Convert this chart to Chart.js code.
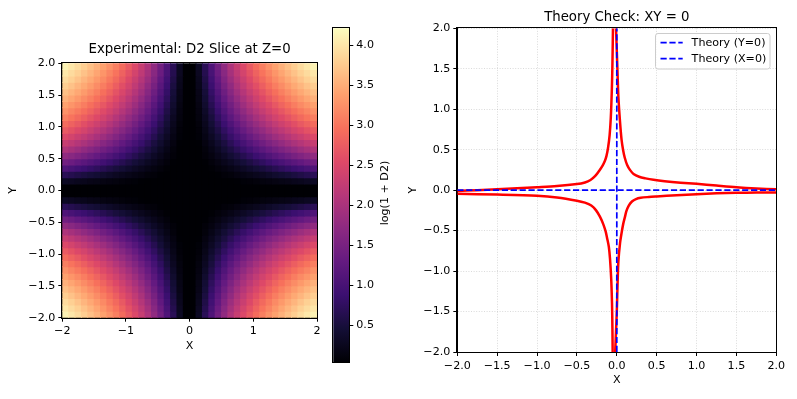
<!DOCTYPE html>
<html><head><meta charset="utf-8">
<script src="https://cdn.jsdelivr.net/npm/chart.js@4.4.1/dist/chart.umd.min.js"></script>
<style>
html,body{margin:0;padding:0;background:#fff;}
#wrap{position:relative;width:797px;height:399px;overflow:hidden;background:#fff;}
.box{position:absolute;top:0;}
canvas{display:block;}
</style></head><body>
<div id="wrap">
 <div class="box" style="left:0px"><canvas id="heat" width="330" height="399"></canvas></div>
 <div class="box" style="left:320px"><canvas id="cbar" width="90" height="399"></canvas></div>
 <div class="box" style="left:400px"><canvas id="theory" width="397" height="399"></canvas></div>
</div>
<script>
// ---------------- DATA ----------------
const heatTitle = 'Experimental: D2 Slice at Z=0';
const theoryTitle = 'Theory Check: XY = 0';
const colorbarLabel = 'log(1 + D2)';

const heatXCenters = [-1.95,-1.85,-1.75,-1.65,-1.55,-1.45,-1.35,-1.25,-1.15,-1.05,-0.95,-0.85,-0.75,-0.65,-0.55,-0.45,-0.35,-0.25,-0.15,-0.05,0.05,0.15,0.25,0.35,0.45,0.55,0.65,0.75,0.85,0.95,1.05,1.15,1.25,1.35,1.45,1.55,1.65,1.75,1.85,1.95];
const heatYCenters = [-1.95,-1.85,-1.75,-1.65,-1.55,-1.45,-1.35,-1.25,-1.15,-1.05,-0.95,-0.85,-0.75,-0.65,-0.55,-0.45,-0.35,-0.25,-0.15,-0.05,0.05,0.15,0.25,0.35,0.45,0.55,0.65,0.75,0.85,0.95,1.05,1.15,1.25,1.35,1.45,1.55,1.65,1.75,1.85,1.95];

// log(1 + D2), row i -> heatYCenters[i], column j -> heatXCenters[j]
const heatLogD2 = [
[4.11,4.01,3.90,3.78,3.66,3.53,3.39,3.25,3.09,2.91,2.72,2.52,2.29,2.04,1.75,1.43,1.08,0.69,0.30,0.04,0.04,0.30,0.69,1.08,1.43,1.75,2.04,2.29,2.52,2.72,2.91,3.09,3.25,3.39,3.53,3.66,3.78,3.90,4.01,4.11],
[4.01,3.90,3.80,3.68,3.56,3.43,3.29,3.14,2.99,2.81,2.63,2.42,2.20,1.95,1.67,1.36,1.01,0.64,0.28,0.03,0.03,0.28,0.64,1.01,1.36,1.67,1.95,2.20,2.42,2.63,2.81,2.99,3.14,3.29,3.43,3.56,3.68,3.80,3.90,4.01],
[3.90,3.80,3.69,3.57,3.45,3.32,3.19,3.04,2.88,2.71,2.52,2.32,2.10,1.85,1.58,1.27,0.94,0.58,0.25,0.03,0.03,0.25,0.58,0.94,1.27,1.58,1.85,2.10,2.32,2.52,2.71,2.88,3.04,3.19,3.32,3.45,3.57,3.69,3.80,3.90],
[3.78,3.68,3.57,3.46,3.34,3.21,3.07,2.93,2.77,2.60,2.42,2.22,2.00,1.75,1.49,1.19,0.87,0.53,0.23,0.03,0.03,0.23,0.53,0.87,1.19,1.49,1.75,2.00,2.22,2.42,2.60,2.77,2.93,3.07,3.21,3.34,3.46,3.57,3.68,3.78],
[3.66,3.56,3.45,3.34,3.22,3.09,2.95,2.81,2.65,2.48,2.30,2.11,1.89,1.65,1.39,1.11,0.80,0.48,0.20,0.02,0.02,0.20,0.48,0.80,1.11,1.39,1.65,1.89,2.11,2.30,2.48,2.65,2.81,2.95,3.09,3.22,3.34,3.45,3.56,3.66],
[3.53,3.43,3.32,3.21,3.09,2.96,2.83,2.68,2.53,2.36,2.18,1.99,1.78,1.54,1.29,1.02,0.73,0.44,0.18,0.02,0.02,0.18,0.44,0.73,1.02,1.29,1.54,1.78,1.99,2.18,2.36,2.53,2.68,2.83,2.96,3.09,3.21,3.32,3.43,3.53],
[3.39,3.29,3.19,3.07,2.95,2.83,2.69,2.55,2.40,2.23,2.06,1.87,1.66,1.43,1.19,0.93,0.66,0.39,0.16,0.02,0.02,0.16,0.39,0.66,0.93,1.19,1.43,1.66,1.87,2.06,2.23,2.40,2.55,2.69,2.83,2.95,3.07,3.19,3.29,3.39],
[3.25,3.14,3.04,2.93,2.81,2.68,2.55,2.41,2.26,2.10,1.93,1.74,1.54,1.32,1.09,0.84,0.58,0.34,0.14,0.02,0.02,0.14,0.34,0.58,0.84,1.09,1.32,1.54,1.74,1.93,2.10,2.26,2.41,2.55,2.68,2.81,2.93,3.04,3.14,3.25],
[3.09,2.99,2.88,2.77,2.65,2.53,2.40,2.26,2.11,1.95,1.78,1.60,1.41,1.20,0.98,0.75,0.51,0.29,0.12,0.01,0.01,0.12,0.29,0.51,0.75,0.98,1.20,1.41,1.60,1.78,1.95,2.11,2.26,2.40,2.53,2.65,2.77,2.88,2.99,3.09],
[2.91,2.81,2.71,2.60,2.48,2.36,2.23,2.10,1.95,1.80,1.64,1.46,1.27,1.08,0.87,0.66,0.45,0.25,0.10,0.01,0.01,0.10,0.25,0.45,0.66,0.87,1.08,1.27,1.46,1.64,1.80,1.95,2.10,2.23,2.36,2.48,2.60,2.71,2.81,2.91],
[2.72,2.63,2.52,2.42,2.30,2.18,2.06,1.93,1.78,1.64,1.48,1.31,1.13,0.95,0.76,0.56,0.38,0.21,0.08,0.01,0.01,0.08,0.21,0.38,0.56,0.76,0.95,1.13,1.31,1.48,1.64,1.78,1.93,2.06,2.18,2.30,2.42,2.52,2.63,2.72],
[2.52,2.42,2.32,2.22,2.11,1.99,1.87,1.74,1.60,1.46,1.31,1.15,0.99,0.82,0.65,0.47,0.31,0.17,0.07,0.01,0.01,0.07,0.17,0.31,0.47,0.65,0.82,0.99,1.15,1.31,1.46,1.60,1.74,1.87,1.99,2.11,2.22,2.32,2.42,2.52],
[2.29,2.20,2.10,2.00,1.89,1.78,1.66,1.54,1.41,1.27,1.13,0.99,0.84,0.69,0.53,0.39,0.25,0.14,0.05,0.01,0.01,0.05,0.14,0.25,0.39,0.53,0.69,0.84,0.99,1.13,1.27,1.41,1.54,1.66,1.78,1.89,2.00,2.10,2.20,2.29],
[2.04,1.95,1.85,1.75,1.65,1.54,1.43,1.32,1.20,1.08,0.95,0.82,0.69,0.55,0.43,0.30,0.19,0.10,0.04,0.00,0.00,0.04,0.10,0.19,0.30,0.43,0.55,0.69,0.82,0.95,1.08,1.20,1.32,1.43,1.54,1.65,1.75,1.85,1.95,2.04],
[1.75,1.67,1.58,1.49,1.39,1.29,1.19,1.09,0.98,0.87,0.76,0.65,0.53,0.43,0.32,0.23,0.14,0.08,0.03,0.00,0.00,0.03,0.08,0.14,0.23,0.32,0.43,0.53,0.65,0.76,0.87,0.98,1.09,1.19,1.29,1.39,1.49,1.58,1.67,1.75],
[1.43,1.36,1.27,1.19,1.11,1.02,0.93,0.84,0.75,0.66,0.56,0.47,0.39,0.30,0.23,0.16,0.10,0.05,0.02,0.00,0.00,0.02,0.05,0.10,0.16,0.23,0.30,0.39,0.47,0.56,0.66,0.75,0.84,0.93,1.02,1.11,1.19,1.27,1.36,1.43],
[1.08,1.01,0.94,0.87,0.80,0.73,0.66,0.58,0.51,0.45,0.38,0.31,0.25,0.19,0.14,0.10,0.06,0.03,0.01,0.00,0.00,0.01,0.03,0.06,0.10,0.14,0.19,0.25,0.31,0.38,0.45,0.51,0.58,0.66,0.73,0.80,0.87,0.94,1.01,1.08],
[0.69,0.64,0.58,0.53,0.48,0.44,0.39,0.34,0.29,0.25,0.21,0.17,0.14,0.10,0.08,0.05,0.03,0.02,0.01,0.00,0.00,0.01,0.02,0.03,0.05,0.08,0.10,0.14,0.17,0.21,0.25,0.29,0.34,0.39,0.44,0.48,0.53,0.58,0.64,0.69],
[0.30,0.28,0.25,0.23,0.20,0.18,0.16,0.14,0.12,0.10,0.08,0.07,0.05,0.04,0.03,0.02,0.01,0.01,0.00,0.00,0.00,0.00,0.01,0.01,0.02,0.03,0.04,0.05,0.07,0.08,0.10,0.12,0.14,0.16,0.18,0.20,0.23,0.25,0.28,0.30],
[0.04,0.04,0.03,0.03,0.02,0.02,0.02,0.02,0.01,0.01,0.01,0.01,0.01,0.00,0.00,0.00,0.00,0.00,0.00,0.00,0.00,0.00,0.00,0.00,0.00,0.00,0.00,0.01,0.01,0.01,0.01,0.01,0.02,0.02,0.02,0.02,0.03,0.03,0.04,0.04],
[0.04,0.04,0.03,0.03,0.02,0.02,0.02,0.02,0.01,0.01,0.01,0.01,0.01,0.00,0.00,0.00,0.00,0.00,0.00,0.00,0.00,0.00,0.00,0.00,0.00,0.00,0.00,0.01,0.01,0.01,0.01,0.01,0.02,0.02,0.02,0.02,0.03,0.03,0.04,0.04],
[0.30,0.28,0.25,0.23,0.20,0.18,0.16,0.14,0.12,0.10,0.08,0.07,0.05,0.04,0.03,0.02,0.01,0.01,0.00,0.00,0.00,0.00,0.01,0.01,0.02,0.03,0.04,0.05,0.07,0.08,0.10,0.12,0.14,0.16,0.18,0.20,0.23,0.25,0.28,0.30],
[0.69,0.64,0.58,0.53,0.48,0.44,0.39,0.34,0.29,0.25,0.21,0.17,0.14,0.10,0.08,0.05,0.03,0.02,0.01,0.00,0.00,0.01,0.02,0.03,0.05,0.08,0.10,0.14,0.17,0.21,0.25,0.29,0.34,0.39,0.44,0.48,0.53,0.58,0.64,0.69],
[1.08,1.01,0.94,0.87,0.80,0.73,0.66,0.58,0.51,0.45,0.38,0.31,0.25,0.19,0.14,0.10,0.06,0.03,0.01,0.00,0.00,0.01,0.03,0.06,0.10,0.14,0.19,0.25,0.31,0.38,0.45,0.51,0.58,0.66,0.73,0.80,0.87,0.94,1.01,1.08],
[1.43,1.36,1.27,1.19,1.11,1.02,0.93,0.84,0.75,0.66,0.56,0.47,0.39,0.30,0.23,0.16,0.10,0.05,0.02,0.00,0.00,0.02,0.05,0.10,0.16,0.23,0.30,0.39,0.47,0.56,0.66,0.75,0.84,0.93,1.02,1.11,1.19,1.27,1.36,1.43],
[1.75,1.67,1.58,1.49,1.39,1.29,1.19,1.09,0.98,0.87,0.76,0.65,0.53,0.43,0.32,0.23,0.14,0.08,0.03,0.00,0.00,0.03,0.08,0.14,0.23,0.32,0.43,0.53,0.65,0.76,0.87,0.98,1.09,1.19,1.29,1.39,1.49,1.58,1.67,1.75],
[2.04,1.95,1.85,1.75,1.65,1.54,1.43,1.32,1.20,1.08,0.95,0.82,0.69,0.55,0.43,0.30,0.19,0.10,0.04,0.00,0.00,0.04,0.10,0.19,0.30,0.43,0.55,0.69,0.82,0.95,1.08,1.20,1.32,1.43,1.54,1.65,1.75,1.85,1.95,2.04],
[2.29,2.20,2.10,2.00,1.89,1.78,1.66,1.54,1.41,1.27,1.13,0.99,0.84,0.69,0.53,0.39,0.25,0.14,0.05,0.01,0.01,0.05,0.14,0.25,0.39,0.53,0.69,0.84,0.99,1.13,1.27,1.41,1.54,1.66,1.78,1.89,2.00,2.10,2.20,2.29],
[2.52,2.42,2.32,2.22,2.11,1.99,1.87,1.74,1.60,1.46,1.31,1.15,0.99,0.82,0.65,0.47,0.31,0.17,0.07,0.01,0.01,0.07,0.17,0.31,0.47,0.65,0.82,0.99,1.15,1.31,1.46,1.60,1.74,1.87,1.99,2.11,2.22,2.32,2.42,2.52],
[2.72,2.63,2.52,2.42,2.30,2.18,2.06,1.93,1.78,1.64,1.48,1.31,1.13,0.95,0.76,0.56,0.38,0.21,0.08,0.01,0.01,0.08,0.21,0.38,0.56,0.76,0.95,1.13,1.31,1.48,1.64,1.78,1.93,2.06,2.18,2.30,2.42,2.52,2.63,2.72],
[2.91,2.81,2.71,2.60,2.48,2.36,2.23,2.10,1.95,1.80,1.64,1.46,1.27,1.08,0.87,0.66,0.45,0.25,0.10,0.01,0.01,0.10,0.25,0.45,0.66,0.87,1.08,1.27,1.46,1.64,1.80,1.95,2.10,2.23,2.36,2.48,2.60,2.71,2.81,2.91],
[3.09,2.99,2.88,2.77,2.65,2.53,2.40,2.26,2.11,1.95,1.78,1.60,1.41,1.20,0.98,0.75,0.51,0.29,0.12,0.01,0.01,0.12,0.29,0.51,0.75,0.98,1.20,1.41,1.60,1.78,1.95,2.11,2.26,2.40,2.53,2.65,2.77,2.88,2.99,3.09],
[3.25,3.14,3.04,2.93,2.81,2.68,2.55,2.41,2.26,2.10,1.93,1.74,1.54,1.32,1.09,0.84,0.58,0.34,0.14,0.02,0.02,0.14,0.34,0.58,0.84,1.09,1.32,1.54,1.74,1.93,2.10,2.26,2.41,2.55,2.68,2.81,2.93,3.04,3.14,3.25],
[3.39,3.29,3.19,3.07,2.95,2.83,2.69,2.55,2.40,2.23,2.06,1.87,1.66,1.43,1.19,0.93,0.66,0.39,0.16,0.02,0.02,0.16,0.39,0.66,0.93,1.19,1.43,1.66,1.87,2.06,2.23,2.40,2.55,2.69,2.83,2.95,3.07,3.19,3.29,3.39],
[3.53,3.43,3.32,3.21,3.09,2.96,2.83,2.68,2.53,2.36,2.18,1.99,1.78,1.54,1.29,1.02,0.73,0.44,0.18,0.02,0.02,0.18,0.44,0.73,1.02,1.29,1.54,1.78,1.99,2.18,2.36,2.53,2.68,2.83,2.96,3.09,3.21,3.32,3.43,3.53],
[3.66,3.56,3.45,3.34,3.22,3.09,2.95,2.81,2.65,2.48,2.30,2.11,1.89,1.65,1.39,1.11,0.80,0.48,0.20,0.02,0.02,0.20,0.48,0.80,1.11,1.39,1.65,1.89,2.11,2.30,2.48,2.65,2.81,2.95,3.09,3.22,3.34,3.45,3.56,3.66],
[3.78,3.68,3.57,3.46,3.34,3.21,3.07,2.93,2.77,2.60,2.42,2.22,2.00,1.75,1.49,1.19,0.87,0.53,0.23,0.03,0.03,0.23,0.53,0.87,1.19,1.49,1.75,2.00,2.22,2.42,2.60,2.77,2.93,3.07,3.21,3.34,3.46,3.57,3.68,3.78],
[3.90,3.80,3.69,3.57,3.45,3.32,3.19,3.04,2.88,2.71,2.52,2.32,2.10,1.85,1.58,1.27,0.94,0.58,0.25,0.03,0.03,0.25,0.58,0.94,1.27,1.58,1.85,2.10,2.32,2.52,2.71,2.88,3.04,3.19,3.32,3.45,3.57,3.69,3.80,3.90],
[4.01,3.90,3.80,3.68,3.56,3.43,3.29,3.14,2.99,2.81,2.63,2.42,2.20,1.95,1.67,1.36,1.01,0.64,0.28,0.03,0.03,0.28,0.64,1.01,1.36,1.67,1.95,2.20,2.42,2.63,2.81,2.99,3.14,3.29,3.43,3.56,3.68,3.80,3.90,4.01],
[4.11,4.01,3.90,3.78,3.66,3.53,3.39,3.25,3.09,2.91,2.72,2.52,2.29,2.04,1.75,1.43,1.08,0.69,0.30,0.04,0.04,0.30,0.69,1.08,1.43,1.75,2.04,2.29,2.52,2.72,2.91,3.09,3.25,3.39,3.53,3.66,3.78,3.90,4.01,4.11]
];

const cbarMin = 0.04;
const cbarMax = 4.21;
const cbarTicks = [0.5,1.0,1.5,2.0,2.5,3.0,3.5,4.0];
const heatXTicks = [-2,-1,0,1,2];
const heatYTicks = [-2.0,-1.5,-1.0,-0.5,0.0,0.5,1.0,1.5,2.0];
const theoryTicks = [-2.0,-1.5,-1.0,-0.5,0.0,0.5,1.0,1.5,2.0];

// Theory lines
const theoryY0Label = 'Theory (Y=0)';
const theoryY0X = [-2, 2];
const theoryY0Y = [0, 0];
const theoryX0Label = 'Theory (X=0)';
const theoryX0X = [0, 0];
const theoryX0Y = [-2, 2];

// Experimental contour branches (red)
const branchURx = [-0.01,0.00,0.01,0.02,0.04,0.06,0.08,0.10,0.13,0.165,0.21,0.28,0.36,0.46,0.6,0.8,1.0,1.25,1.5,1.75,2.0];
const branchURy = [2.0,1.72,1.43,1.15,0.85,0.62,0.49,0.40,0.31,0.25,0.20,0.165,0.145,0.127,0.11,0.092,0.078,0.056,0.035,0.02,0.01];
const branchULx = [-2.0,-1.75,-1.5,-1.25,-1.0,-0.75,-0.5,-0.4,-0.33,-0.27,-0.22,-0.18,-0.15,-0.13,-0.11,-0.09,-0.075,-0.062,-0.055,-0.048];
const branchULy = [-0.01,0.0,0.01,0.022,0.035,0.05,0.075,0.095,0.125,0.175,0.24,0.30,0.36,0.42,0.52,0.68,0.9,1.25,1.55,2.0];
const branchLLx = [-2.0,-1.5,-1.0,-0.75,-0.5,-0.4,-0.32,-0.26,-0.21,-0.17,-0.14,-0.12,-0.1,-0.085,-0.07,-0.06,-0.055,-0.052];
const branchLLy = [-0.045,-0.055,-0.07,-0.09,-0.13,-0.155,-0.19,-0.25,-0.33,-0.42,-0.51,-0.60,-0.70,-0.85,-1.1,-1.4,-1.7,-2.0];
const branchLRx = [-0.02,-0.01,0.0,0.01,0.02,0.04,0.06,0.08,0.10,0.12,0.15,0.19,0.24,0.3,0.4,0.5,0.75,1.0,1.25,1.5,1.75,2.0];
const branchLRy = [-2.0,-1.75,-1.5,-1.15,-0.88,-0.66,-0.53,-0.42,-0.34,-0.26,-0.19,-0.14,-0.11,-0.095,-0.085,-0.078,-0.062,-0.05,-0.04,-0.033,-0.03,-0.03];

// ---------------- STYLE / HELPERS ----------------
const FONT = 'DejaVu Sans';
Chart.defaults.font.family = FONT;
Chart.defaults.color = '#000';
const magmaStops = ['#000004','#140e36','#3b0f70','#641a80','#8c2981','#b73779','#de4968','#f7705c','#fe9f6d','#fecf92','#fcfdbf'];
const magmaRgb = magmaStops.map(h => [parseInt(h.slice(1,3),16), parseInt(h.slice(3,5),16), parseInt(h.slice(5,7),16)]);
function magma(t){
  t = Math.max(0, Math.min(1, t));
  const p = t * (magmaRgb.length - 1);
  const i = Math.min(Math.floor(p), magmaRgb.length - 2);
  const f = p - i, a = magmaRgb[i], b = magmaRgb[i+1];
  return 'rgb(' + Math.round(a[0]+(b[0]-a[0])*f) + ',' + Math.round(a[1]+(b[1]-a[1])*f) + ',' + Math.round(a[2]+(b[2]-a[2])*f) + ')';
}
function fmt(v, d){ const s = Math.abs(v).toFixed(d); return v < -1e-9 ? '\u2212' + s : s; }
const tickFont = {family: FONT, size: 11.1};
const titleFont = {family: FONT, size: 13.3, weight: 'normal'};

const framePlugin = {
  id: 'frame',
  afterDraw(chart){
    const a = chart.chartArea, ctx = chart.ctx;
    ctx.save();
    ctx.strokeStyle = '#000';
    ctx.lineWidth = 1;
    ctx.strokeRect(Math.round(a.left) - 0.5, Math.round(a.top) - 0.5, Math.round(a.right) - Math.round(a.left) + 1, Math.round(a.bottom) - Math.round(a.top) + 1);
    ctx.restore();
  }
};
const noInteract = {responsive: false, animation: false, events: [], devicePixelRatio: 1};

// ---------------- HEATMAP ----------------
const heatPoints = [], heatColors = [];
heatYCenters.forEach((y, i) => {
  heatXCenters.forEach((x, j) => {
    const v = heatLogD2[i][j];
    heatPoints.push({x: x, y: y, v: v});
    heatColors.push(magma((v - cbarMin) / (cbarMax - cbarMin)));
  });
});

new Chart(document.getElementById('heat'), {
  type: 'scatter',
  data: {datasets: [{
    data: heatPoints,
    pointStyle: 'rect',
    pointBackgroundColor: heatColors,
    pointBorderWidth: 0,
    pointRotation: 0,
    clip: 0,
    pointRadius: (c) => {
      const sx = c.chart.scales.x;
      const half = Math.abs(sx.getPixelForValue(0.05) - sx.getPixelForValue(0));
      return (half + 0.45) * Math.SQRT2;
    }
  }]},
  options: Object.assign({}, noInteract, {
    layout: {padding: {left: 0, right: 13, top: 0, bottom: 41.3}},
    plugins: {
      legend: {display: false}, tooltip: {enabled: false},
      title: {display: true, text: heatTitle, font: titleFont, color: '#000', fullSize: false, padding: {top: 42, bottom: 5.3}}
    },
    scales: {
      x: {
        type: 'linear', min: -2, max: 2,
        afterBuildTicks: s => { s.ticks = heatXTicks.map(v => ({value: v})); },
        afterFit: s => { s.height = 40; },
        ticks: {font: tickFont, color: '#000', padding: 3, maxRotation: 0, autoSkip: false, callback: v => fmt(v, 0)},
        grid: {display: true, drawOnChartArea: false, drawTicks: true, tickLength: 4, tickColor: '#000', tickWidth: 1},
        border: {display: true, color: '#000'},
        title: {display: true, text: 'X', font: tickFont, color: '#000', padding: {top: 0, bottom: 5}}
      },
      y: {
        type: 'linear', min: -2, max: 2,
        afterBuildTicks: s => { s.ticks = heatYTicks.map(v => ({value: v})); },
        afterFit: s => { s.width = 62.3; },
        ticks: {font: tickFont, color: '#000', padding: 3, autoSkip: false, callback: v => fmt(v, 1)},
        grid: {display: true, drawOnChartArea: false, drawTicks: true, tickLength: 4, tickColor: '#000', tickWidth: 1},
        border: {display: true, color: '#000'},
        title: {display: true, text: 'Y', font: tickFont, color: '#000', padding: {top: 6.7, bottom: 0}}
      }
    }
  }),
  plugins: [framePlugin]
});

// ---------------- COLORBAR ----------------
const cbarLabelPlugin = {
  id: 'cbarLabel',
  afterDraw(chart){
    const ctx = chart.ctx;
    ctx.save();
    ctx.translate(65, 193);
    ctx.rotate(-Math.PI / 2);
    ctx.font = '11.1px "' + FONT + '"';
    ctx.fillStyle = '#000';
    ctx.textAlign = 'center';
    ctx.textBaseline = 'middle';
    ctx.fillText(colorbarLabel, 0, 0);
    ctx.restore();
  }
};
new Chart(document.getElementById('cbar'), {
  type: 'bar',
  data: {labels: ['cb'], datasets: [{
    data: [[cbarMin, cbarMax]],
    borderWidth: 0, barPercentage: 1, categoryPercentage: 1,
    backgroundColor: (c) => {
      const a = c.chart.chartArea;
      if (!a) return '#000';
      const g = c.chart.ctx.createLinearGradient(0, a.bottom, 0, a.top);
      magmaStops.forEach((s, i) => g.addColorStop(i / (magmaStops.length - 1), s));
      return g;
    }
  }]},
  options: Object.assign({}, noInteract, {
    layout: {padding: {left: 13.3, right: 0, top: 28.3, bottom: 37}},
    plugins: {legend: {display: false}, tooltip: {enabled: false}},
    scales: {
      x: {display: false},
      y: {
        position: 'right', min: cbarMin, max: cbarMax,
        afterBuildTicks: s => { s.ticks = cbarTicks.map(v => ({value: v})); },
        afterFit: s => { s.width = 60.7; },
        ticks: {font: tickFont, color: '#000', padding: 3, autoSkip: false, callback: v => fmt(v, 1)},
        grid: {display: true, drawOnChartArea: false, drawTicks: true, tickLength: 4, tickColor: '#000', tickWidth: 1},
        border: {display: true, color: '#000'}
      }
    }
  }),
  plugins: [framePlugin, cbarLabelPlugin]
});

// ---------------- THEORY ----------------
const toXY = (xs, ys) => xs.map((x, i) => ({x: x, y: ys[i]}));
const blueStyle = {borderColor: '#0000ff', borderWidth: 1.7, borderDash: [6.2, 2.7], pointRadius: 0, showLine: true, fill: false};
const redStyle = {label: '', borderColor: '#ff0000', borderWidth: 2.5, pointRadius: 0, showLine: true, fill: false, borderJoinStyle: 'round', tension: 0.3};

const legendPlugin = {
  id: 'mplLegend',
  afterDraw(chart){
    const ctx = chart.ctx;
    const items = chart.data.datasets.filter(d => d.label);
    const bx = 255.5, by = 33.5, bw = 114.5, bh = 35.5, r = 2.5;
    ctx.save();
    ctx.beginPath();
    ctx.moveTo(bx + r, by); ctx.lineTo(bx + bw - r, by); ctx.arcTo(bx + bw, by, bx + bw, by + r, r);
    ctx.lineTo(bx + bw, by + bh - r); ctx.arcTo(bx + bw, by + bh, bx + bw - r, by + bh, r);
    ctx.lineTo(bx + r, by + bh); ctx.arcTo(bx, by + bh, bx, by + bh - r, r);
    ctx.lineTo(bx, by + r); ctx.arcTo(bx, by, bx + r, by, r);
    ctx.closePath();
    ctx.fillStyle = 'rgba(255,255,255,0.8)';
    ctx.fill();
    ctx.strokeStyle = '#cccccc';
    ctx.lineWidth = 1;
    ctx.stroke();
    items.forEach((d, i) => {
      const cy = 42.7 + 16 * i;
      ctx.beginPath();
      ctx.setLineDash(d.borderDash || []);
      ctx.strokeStyle = d.borderColor;
      ctx.lineWidth = d.borderWidth;
      ctx.moveTo(260.5, cy); ctx.lineTo(282.7, cy);
      ctx.stroke();
      ctx.setLineDash([]);
      ctx.fillStyle = '#000';
      ctx.font = '11.1px "' + FONT + '"';
      ctx.textAlign = 'left';
      ctx.textBaseline = 'middle';
      ctx.fillText(d.label, 291.6, cy);
    });
    ctx.restore();
  }
};

new Chart(document.getElementById('theory'), {
  type: 'scatter',
  data: {datasets: [
    Object.assign({label: theoryY0Label, data: toXY(theoryY0X, theoryY0Y)}, blueStyle),
    Object.assign({label: theoryX0Label, data: toXY(theoryX0X, theoryX0Y)}, blueStyle),
    Object.assign({}, redStyle, {data: toXY(branchURx, branchURy)}),
    Object.assign({}, redStyle, {data: toXY(branchULx, branchULy)}),
    Object.assign({}, redStyle, {data: toXY(branchLLx, branchLLy)}),
    Object.assign({}, redStyle, {data: toXY(branchLRx, branchLRy)})
  ]},
  options: Object.assign({}, noInteract, {
    layout: {padding: {left: 0, right: 20.7, top: 0, bottom: 7}},
    plugins: {
      legend: {display: false}, tooltip: {enabled: false},
      title: {display: true, text: theoryTitle, font: titleFont, color: '#000', fullSize: false, padding: {top: 9.7, bottom: 2.6}}
    },
    scales: {
      x: {
        type: 'linear', min: -2, max: 2,
        afterBuildTicks: s => { s.ticks = theoryTicks.map(v => ({value: v})); },
        afterFit: s => { s.height = 40; },
        ticks: {font: tickFont, color: '#000', padding: 3, maxRotation: 0, autoSkip: false, callback: v => fmt(v, 1)},
        grid: {display: true, drawOnChartArea: true, color: 'rgba(176,176,176,0.6)', lineWidth: 0.8, drawTicks: true, tickLength: 4, tickColor: '#000', tickWidth: 1},
        border: {display: true, color: '#000', dash: [1, 1.6]},
        title: {display: true, text: 'X', font: tickFont, color: '#000', padding: {top: 0, bottom: 5.3}}
      },
      y: {
        type: 'linear', min: -2, max: 2,
        afterBuildTicks: s => { s.ticks = theoryTicks.map(v => ({value: v})); },
        afterFit: s => { s.width = 57.3; },
        ticks: {font: tickFont, color: '#000', padding: 3, autoSkip: false, callback: v => fmt(v, 1)},
        grid: {display: true, drawOnChartArea: true, color: 'rgba(176,176,176,0.6)', lineWidth: 0.8, drawTicks: true, tickLength: 4, tickColor: '#000', tickWidth: 1},
        border: {display: true, color: '#000', dash: [1, 1.6]},
        title: {display: true, text: 'Y', font: tickFont, color: '#000', padding: {top: 6.1, bottom: 0}}
      }
    }
  }),
  plugins: [framePlugin, legendPlugin]
});
</script>
</body></html>
